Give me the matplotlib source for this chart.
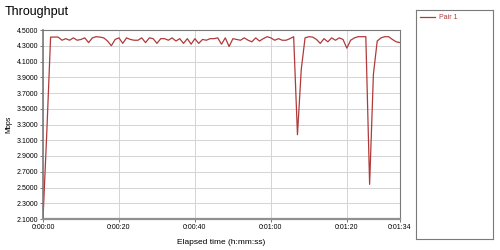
import matplotlib
matplotlib.use('Agg')
import matplotlib.pyplot as plt

plt.rcParams['font.family'] = ['Liberation Sans', 'DejaVu Sans']

# elapsed seconds and throughput (Mbps) for Pair 1
seconds = list(range(95))
pair1 = [
    2.10, 3.20, 4.41, 4.41, 4.41, 4.37, 4.39, 4.37, 4.40, 4.37,
    4.38, 4.40, 4.34, 4.40, 4.415, 4.41, 4.40, 4.36, 4.30, 4.38,
    4.40, 4.33, 4.40, 4.38, 4.37, 4.37, 4.40, 4.34, 4.40, 4.39,
    4.33, 4.39, 4.39, 4.37, 4.40, 4.36, 4.39, 4.33, 4.39, 4.32,
    4.39, 4.33, 4.38, 4.37, 4.39, 4.39, 4.40, 4.32, 4.40, 4.29,
    4.39, 4.38, 4.37, 4.40, 4.37, 4.35, 4.40, 4.36, 4.39, 4.415,
    4.40, 4.37, 4.39, 4.37, 4.37, 4.39, 4.415, 3.17, 4.00, 4.40,
    4.415, 4.41, 4.38, 4.33, 4.39, 4.35, 4.40, 4.37, 4.40, 4.38,
    4.27, 4.37, 4.40, 4.415, 4.415, 4.415, 2.54, 3.94, 4.36, 4.40,
    4.415, 4.415, 4.38, 4.35, 4.34,
]
y_ticks = [2.1 + 0.2 * i for i in range(13)]
x_ticks = [0, 20, 40, 60, 80, 94]
x_labels = ['0:00:00', '0:00:20', '0:00:40', '0:01:00', '0:01:20', '0:01:34']

fig = plt.figure(figsize=(5, 2.5), dpi=100)
ax = fig.add_axes([43 / 500, 1 - 219 / 250, 357 / 500, 189 / 250])

line, = ax.plot(seconds, pair1, color='#b03a3a', lw=0.9, label='Pair 1')

ax.set_xlim(0, 94)
ax.set_ylim(2.1, 4.5)
ax.set_yticks(y_ticks)
ax.set_yticklabels(['%.4f' % v for v in y_ticks])
ax.set_xticks(x_ticks)
ax.set_xticklabels(x_labels)
ax.tick_params(labelsize=5, length=2, width=0.6, color='#606060', pad=1.5)
ax.grid(True, color='#d4d4d4', lw=0.7)
ax.set_axisbelow(True)

for name, spine in ax.spines.items():
    spine.set_color('#7a7a7a')
    spine.set_linewidth(0.8)
ax.spines['bottom'].set_linewidth(1.6)
ax.spines['bottom'].set_color('#909090')
ax.spines['left'].set_linewidth(1.2)

ax.set_xlabel('Elapsed time (h:mm:ss)', fontsize=6, labelpad=6)
ax.set_ylabel('Mbps', fontsize=5, labelpad=3)

# title
fig.text(5 / 500, 1 - 12 / 250, 'Throughput', fontsize=9, va='center', ha='left')

# legend box on the right
lax = fig.add_axes([416 / 500, 1 - 239 / 250, 77 / 500, 229 / 250])
lax.set_xticks([])
lax.set_yticks([])
for spine in lax.spines.values():
    spine.set_color('#7a7a7a')
    spine.set_linewidth(0.8)
leg = lax.legend(handles=[line], loc='upper left', frameon=False, fontsize=5,
                 handlelength=2.2, borderaxespad=0.2, handletextpad=0.5)
for t in leg.get_texts():
    t.set_color('#b03a3a')

fig.savefig('out.png', dpi=100)
